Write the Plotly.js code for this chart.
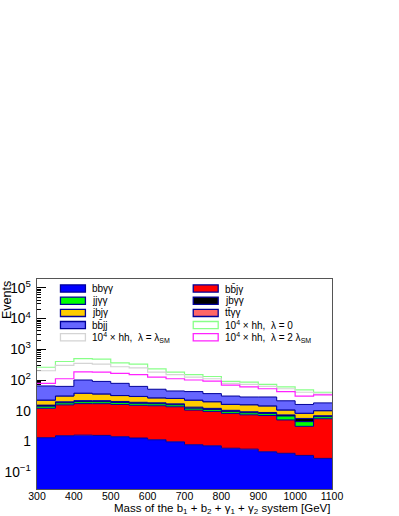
<!DOCTYPE html>
<html>
<head>
<meta charset="utf-8">
<script src="https://cdn.plot.ly/plotly-3.0.1.min.js"></script>
<style>
  html, body { margin: 0; padding: 0; background: #fff; }
  #plot { width: 399px; height: 516px; }
</style>
</head>
<body>
<div id="plot"></div>
<script>
const plot = document.getElementById("plot");

// bin edges of the mass histogram [GeV]
const binEdges = [300, 350, 400, 450, 500, 550, 600, 650, 700, 750, 800, 850, 900, 950, 1000, 1050, 1100];

// stacked backgrounds, bottom to top (events per bin)
const bbaa = [1.32, 1.53, 1.6, 1.57, 1.42, 1.29, 1.13, 0.97, 0.78, 0.72, 0.60, 0.56, 0.46, 0.41, 0.35, 0.28];
const bbja = [10.7, 14.0, 15.4, 15.4, 14.6, 13.7, 13.4, 12.5, 9.7, 8.8, 7.6, 6.8, 6.5, 4.6, 2.75, 5.2];
const jjaa = [2.0, 2.5, 2.7, 2.7, 2.5, 2.4, 2.3, 2.1, 1.6, 1.5, 1.3, 1.2, 1.1, 1.7, 1.3, 0.9];
const jbaa = [1.2, 1.5, 1.6, 1.6, 1.5, 1.4, 1.3, 1.2, 1.0, 0.9, 0.8, 0.7, 0.7, 0.6, 1.2, 0.5];
const jbja = [6.8, 10.5, 15.7, 13.7, 11.0, 10.2, 7.9, 8.2, 8.9, 7.6, 5.7, 6.3, 5.5, 3.2, 2.6, 3.1];
const ttaa = [0.2, 0.25, 0.3, 0.3, 0.25, 0.25, 0.2, 0.2, 0.2, 0.15, 0.15, 0.12, 0.12, 0.1, 0.08, 0.08];
const bbjj = [41.8, 31.7, 62.7, 54.7, 46.7, 32.7, 23.8, 18.8, 19.8, 16.4, 13.9, 12.3, 13.6, 10.4, 7.7, 7.9];

// signal, scaled by 10^4 (not stacked)
const hhL0 = [260, 400, 500, 480, 360, 330, 230, 180, 150, 130, 90, 85, 72, 60, 48, 40];
const hhSM = [200, 300, 350, 330, 270, 250, 180, 150, 125, 110, 78, 72, 62, 52, 40, 35];
const hh2SM = [78, 110, 185, 180, 165, 150, 125, 110, 100, 92, 68, 60, 52, 42, 30, 33];

const stackNames = ["bbγγ", "bb\u0304jγ", "jjγγ", "jbγγ", "jbjγ", "tt\u0304γγ", "bb\u0304jj"];
const stackColors = ["#0000ff", "#ff0000", "#00ff00", "#000000", "#ffcc00", "#ff6666", "#6666ff"];
const stackValues = [bbaa, bbja, jjaa, jbaa, jbja, ttaa, bbjj];

const lineNames = [
  "10<sup>4</sup> × hh,\u00a0\u00a0λ = 0",
  "10<sup>4</sup> × hh,\u00a0\u00a0λ = λ<sub>SM</sub>",
  "10<sup>4</sup> × hh,\u00a0\u00a0λ = 2 λ<sub>SM</sub>"
];
const lineColors = ["#88ff88", "#d4d4d4", "#ff22ff"];
const lineValues = [hhL0, hhSM, hh2SM];

const outline = "#000099";
const font = "Liberation Sans, Arial, sans-serif";

// repeat last bin so the hv step closes at the right edge
function steps(vals) {
  return vals.concat([vals[vals.length - 1]]);
}

const traces = [];
let cum = bbaa.map(() => 0);
stackValues.forEach((vals, k) => {
  cum = cum.map((c, i) => c + vals[i]);
  traces.push({
    type: "scatter",
    mode: "lines",
    x: binEdges,
    y: steps(cum),
    line: { shape: "hv", color: outline, width: 1 },
    fill: k === 0 ? "tozeroy" : "tonexty",
    fillcolor: stackColors[k],
    name: stackNames[k],
    hoverinfo: "skip"
  });
});

lineValues.forEach((vals, k) => {
  traces.push({
    type: "scatter",
    mode: "lines",
    x: binEdges,
    y: steps(vals),
    line: { shape: "hv", color: lineColors[k], width: 1.2 },
    name: lineNames[k],
    hoverinfo: "skip"
  });
});

// hand-made two-column legend (ROOT style boxes)
const plotL = 36.5, plotW = 295.5, plotB = 489, plotH = 210;
const px = x => (x - plotL) / plotW;
const py = y => (plotB - y) / plotH;

// row-wise order: 7 stacked items, then lambda = 0, lambda = SM, lambda = 2 SM
const legendItems = [];
stackNames.forEach((n, k) => legendItems.push({ text: n, fill: stackColors[k], line: outline }));
lineNames.forEach((n, k) => legendItems.push({ text: n, fill: "#ffffff", line: lineColors[k] }));

const colBox = [60, 193];
const rowY0 = 288.5, rowStep = 12.2;
const shapes = [];
const annotations = [];
legendItems.forEach((it, i) => {
  const row = Math.floor(i / 2);
  const col = i % 2;
  const yc = rowY0 + row * rowStep;
  shapes.push({
    type: "rect", xref: "paper", yref: "paper",
    x0: px(colBox[col]), x1: px(colBox[col] + 25),
    y0: py(yc + 3.6), y1: py(yc - 3.6),
    fillcolor: it.fill,
    line: { color: it.line, width: 1.3 }
  });
  annotations.push({
    xref: "paper", yref: "paper",
    x: px(colBox[col] + 30), y: py(yc),
    xanchor: "left", yanchor: "middle",
    text: it.text, showarrow: false,
    font: { family: font, size: 10, color: "#000" }
  });
});

annotations.push({
  xref: "paper", yref: "paper", x: 0, y: 1,
  xanchor: "center", yanchor: "top", xshift: -30,
  textangle: -90, text: "Events", showarrow: false,
  font: { family: font, size: 12.5, color: "#000" }
});
annotations.push({
  xref: "paper", yref: "paper", x: 1, y: 0,
  xanchor: "right", yanchor: "middle", yshift: -20,
  text: "Mass of the b<sub>1</sub> + b<sub>2</sub> + γ<sub>1</sub> + γ<sub>2</sub> system [GeV]",
  showarrow: false,
  font: { family: font, size: 11.5, color: "#000" }
});

Plotly.newPlot(plot, traces, {
  width: 399,
  height: 516,
  margin: { l: 36.5, r: 67, t: 279, b: 27 },
  paper_bgcolor: "#ffffff",
  plot_bgcolor: "#ffffff",
  showlegend: false,
  font: { family: font, color: "#000" },
  xaxis: {
    range: [300, 1100],
    dtick: 100,
    ticks: "inside",
    ticklen: 7,
    tickcolor: "#000",
    ticklabelstandoff: -3,
    showgrid: false,
    zeroline: false,
    showline: true,
    mirror: true,
    linecolor: "#555",
    linewidth: 1,
    layer: "below traces",
    tickfont: { family: font, size: 10.5, color: "#000" },
    minor: { ticks: "inside", ticklen: 4, dtick: 50, tickcolor: "#000" }
  },
  yaxis: {
    type: "log",
    range: [-1.55, 5.29],
    dtick: 1,
    exponentformat: "power",
    ticks: "inside",
    ticklen: 9,
    tickcolor: "#000",
    ticklabelstandoff: 3,
    showgrid: false,
    zeroline: false,
    showline: true,
    mirror: true,
    linecolor: "#555",
    linewidth: 1,
    layer: "below traces",
    tickfont: { family: font, size: 11, color: "#000" },
    minor: { ticks: "inside", ticklen: 4, dtick: "D1", tickcolor: "#000" }
  },
  shapes: shapes,
  annotations: annotations
}, { staticPlot: true, displayModeBar: false });
</script>
</body>
</html>
